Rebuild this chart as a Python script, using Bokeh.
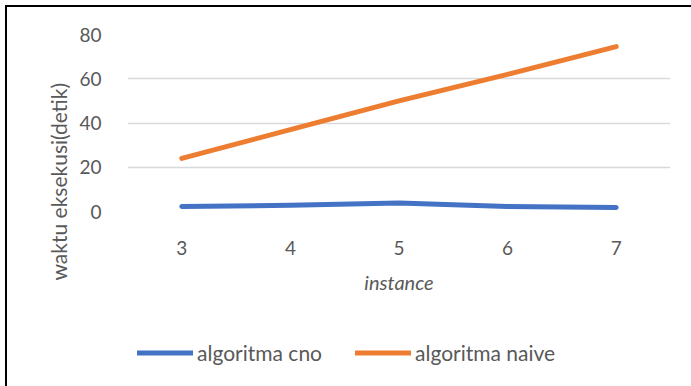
from bokeh.plotting import figure
from bokeh.layouts import column
from bokeh.models import (FactorRange, Range1d, FixedTicker, Legend, LegendItem, Title)
from bokeh.embed import file_html
from bokeh.resources import INLINE

instances = ["3", "4", "5", "6", "7"]
cno = [2.3, 2.8, 3.8, 2.3, 1.8]
naive = [24, 37, 50, 62, 74.5]
y_ticks = [0, 20, 40, 60, 80]
y_title = "waktu eksekusi(detik)"
x_title = "instance"
names = ["algoritma cno", "algoritma naive"]

FONT = "Lato"
TXT = "#595959"
BLUE = "#4472C4"
ORANGE = "#ED7D31"

p = figure(frame_width=541, frame_height=175, x_range=FactorRange(*instances),
           y_range=Range1d(0, 80), output_backend="svg", toolbar_location=None,
           min_border_left=120, min_border_right=23, min_border_top=27,
           min_border_bottom=91)
p.margin = (5, 0, 0, 5)
p.styles = {"border-top": "2px solid #000", "border-left": "2px solid #000"}
p.outline_line_color = None
p.background_fill_color = "white"
p.border_fill_color = "white"

r1 = p.line(instances, cno, line_color=BLUE, line_width=5, line_cap="round", line_join="round")
r2 = p.line(instances, naive, line_color=ORANGE, line_width=5, line_cap="round", line_join="round")

p.xgrid.visible = False
p.ygrid.grid_line_color = "#D9D9D9"
p.ygrid.grid_line_width = 1.5
p.yaxis.ticker = FixedTicker(ticks=y_ticks)

for ax in (p.xaxis[0], p.yaxis[0]):
    ax.axis_line_color = None
    ax.major_tick_line_color = None
    ax.minor_tick_line_color = None
    ax.major_label_text_font = FONT
    ax.major_label_text_font_size = "19px"
    ax.major_label_text_color = TXT

p.yaxis.major_label_standoff = 20
p.xaxis.major_label_standoff = 23
p.xaxis.axis_label = x_title
p.xaxis.axis_label_text_font = FONT
p.xaxis.axis_label_text_font_style = "italic"
p.xaxis.axis_label_text_font_size = "20px"
p.xaxis.axis_label_text_color = TXT
p.xaxis.axis_label_standoff = 12

ytitle = Title(text=y_title, align="left", offset=-69, vertical_align="middle",
               text_font=FONT, text_font_size="21px", text_font_style="normal",
               text_color=TXT, standoff=10)
p.add_layout(ytitle, "left")

# legend strip below the chart
p2 = figure(frame_width=541, frame_height=68, x_range=FactorRange(*instances),
            y_range=Range1d(1000, 1001), output_backend="svg", toolbar_location=None,
            x_axis_location=None, y_axis_location=None,
            min_border_left=120, min_border_right=23, min_border_top=18,
            min_border_bottom=0)
p2.margin = (0, 0, 0, 5)
p2.styles = {"border-left": "2px solid #000"}
p2.outline_line_color = None
p2.grid.visible = False
p2.background_fill_color = "white"
p2.border_fill_color = "white"

l1 = p2.line(instances, cno, line_color=BLUE, line_width=5, line_cap="round")
l2 = p2.line(instances, naive, line_color=ORANGE, line_width=5, line_cap="round")

legend = Legend(items=[LegendItem(label=names[0], renderers=[l1]),
                       LegendItem(label=names[1], renderers=[l2])],
                orientation="horizontal", location="left", padding=0, margin=10,
                spacing=33, glyph_width=56, glyph_height=20, label_standoff=4,
                label_text_font=FONT, label_text_font_size="21px",
                label_text_color=TXT, border_line_alpha=0,
                background_fill_alpha=0)
p2.add_layout(legend)

layout = column(p, p2, spacing=0)
open("out.html", "w").write(file_html(layout, INLINE))
